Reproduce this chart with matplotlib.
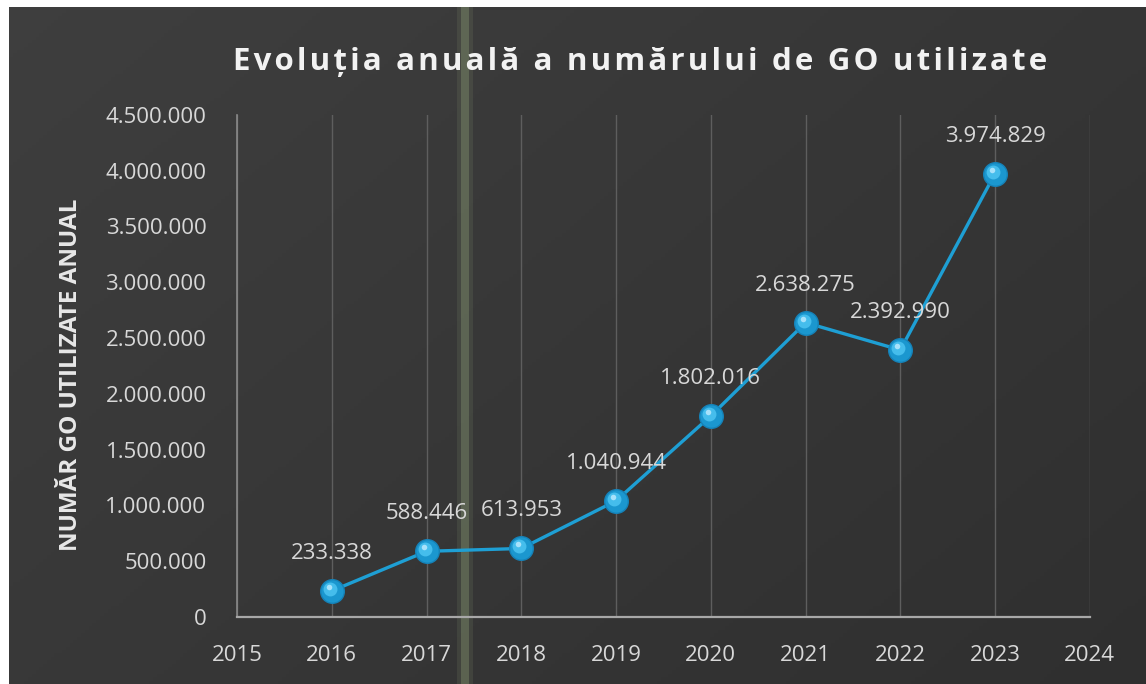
import numpy as np
import matplotlib
matplotlib.use('Agg')
import matplotlib.pyplot as plt
import matplotlib.transforms as mtransforms
from matplotlib.patches import Rectangle

# ============================================================
# Date
# ============================================================
years = [2016, 2017, 2018, 2019, 2020, 2021, 2022, 2023]
go_used = [233338, 588446, 613953, 1040944, 1802016, 2638275, 2392990, 3974829]
x_ticks = list(range(2015, 2025))
y_ticks = list(range(0, 4500001, 500000))

title = 'Evoluția anuală a numărului de GO utilizate'
ylabel = 'NUMĂR GO UTILIZATE ANUAL'


def fmt_ro(v):
    # separator de mii cu punct
    return f'{int(v):,}'.replace(',', '.')


plt.rcParams['font.family'] = ['Open Sans', 'DejaVu Sans']

fig = plt.figure(figsize=(11.46, 6.84), dpi=100)
fig.patch.set_facecolor('white')

# --- fundal gri închis cu gradient ușor ---
bg = fig.add_axes([0.008, 0.0, 0.992, 0.99], zorder=0)
gy, gx = np.mgrid[0:1:200j, 0:1:300j]
shade = 0.245 - 0.035 * gx - 0.025 * gy
bg.imshow(np.dstack([shade, shade, shade]), aspect='auto',
          extent=[0, 1, 0, 1], origin='upper')
bg.set_xlim(0, 1)
bg.set_ylim(0, 1)
bg.axis('off')

# dungă verticală de la scanare
fig.patches.append(Rectangle((0.399, 0.0), 0.014, 0.99, transform=fig.transFigure,
                             facecolor='#9fb584', alpha=0.12, zorder=0.5))
fig.patches.append(Rectangle((0.4025, 0.0), 0.0065, 0.99, transform=fig.transFigure,
                             facecolor='#a9c08c', alpha=0.25, zorder=0.5))

ax = fig.add_axes([0.2068, 0.098, 0.7442, 0.734], zorder=1)
ax.set_facecolor('none')

ax.plot(years, go_used, color='#1e9fd4', linewidth=2.4, zorder=3)
ax.plot(years, go_used, linestyle='none', marker='o', markersize=17,
        markerfacecolor='#1b97cf', markeredgecolor='#1582b8', markeredgewidth=1, zorder=4)
hl = ax.transData + mtransforms.ScaledTranslation(-2 / 100, 2 / 100, fig.dpi_scale_trans)
ax.plot(years, go_used, linestyle='none', marker='o', markersize=10,
        markerfacecolor='#45bdec', markeredgecolor='none', transform=hl, zorder=5)
hl2 = ax.transData + mtransforms.ScaledTranslation(-3 / 100, 4 / 100, fig.dpi_scale_trans)
ax.plot(years, go_used, linestyle='none', marker='o', markersize=4,
        markerfacecolor='#a8e2fb', markeredgecolor='none', transform=hl2, zorder=6)

for x, y in zip(years, go_used):
    ax.annotate(fmt_ro(y), (x, y), xytext=(0, 27), textcoords='offset points',
                ha='center', va='center', fontsize=16, color='#d8d8d8', zorder=7)

ax.set_xlim(2015, 2024)
ax.set_ylim(0, 4500000)
ax.set_xticks(x_ticks)
ax.set_yticks(y_ticks)
ax.set_yticklabels([fmt_ro(v) for v in y_ticks])
ax.tick_params(axis='both', length=0, labelsize=16, labelcolor='#d8d8d8')
ax.tick_params(axis='x', pad=20)
ax.tick_params(axis='y', pad=22)

ax.grid(axis='x', color='#5e5e5e', linewidth=1)
ax.grid(axis='y', visible=False)
for s in ['top', 'right']:
    ax.spines[s].set_visible(False)
ax.spines['left'].set_color('#8a8a8a')
ax.spines['left'].set_linewidth(1.2)
ax.spines['bottom'].set_color('#a8a8a8')
ax.spines['bottom'].set_linewidth(1.6)

ax.set_ylabel(ylabel, fontsize=17.5, fontweight='bold', color='#e8e8e8')
ax.yaxis.label.set_va('center')
ax.yaxis.set_label_coords(-0.195, 0.482)
# titlu cu spațiere între litere
fig.text(0.559, 0.91, '\u200a'.join(title), ha='center', va='center', fontsize=22.5,
         fontweight='bold', color='#f2f2f2')

fig.savefig('out.png', dpi=100, facecolor=fig.get_facecolor())
